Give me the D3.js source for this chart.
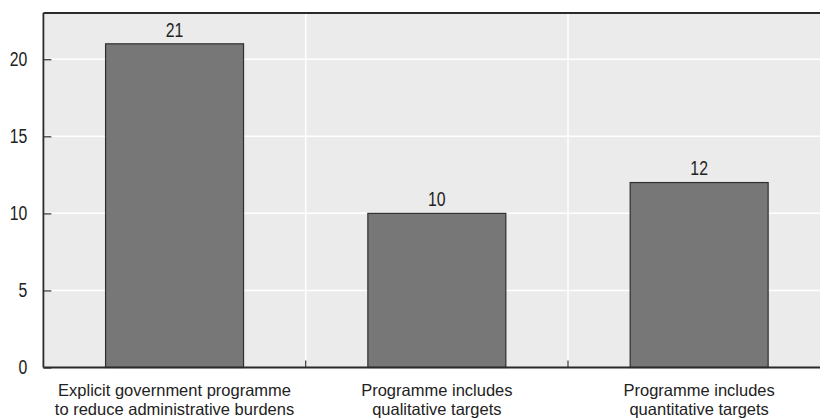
<!DOCTYPE html>
<html>
<head>
<meta charset="utf-8">
<script src="https://cdn.jsdelivr.net/npm/d3@7"></script>
<style>
  html, body { margin: 0; padding: 0; background: #ffffff; }
  svg { display: block; }
  text { font-family: "Liberation Sans", Arial, sans-serif; fill: #222; }
</style>
</head>
<body>
<svg id="chart" width="820" height="419"></svg>
<script>
// Number of countries per category
const categories = [
  ["Explicit government programme", "to reduce administrative burdens"],
  ["Programme includes", "qualitative targets"],
  ["Programme includes", "quantitative targets"]
];
const values = [21, 10, 12];
const yTicks = [0, 5, 10, 15, 20];

const W = 820, H = 419;
const margin = { left: 43.4, top: 13, bottom: 51.5 };
const plotRight = 830.3; // plot frame runs past the right edge of the canvas
const fontSize = 19.5;
const catFontSize = 16.5;
const catLeading = 19;
const squeeze = 1.0;      // horizontal scaling of the category labels
const numSqueeze = 0.81;  // digits are set narrower

const svg = d3.select("#chart");
const keys = categories.map((c, i) => i);

const x = d3.scaleBand().domain(keys).range([margin.left, plotRight]).padding(0);
const barFrac = 0.526;
const y = d3.scaleLinear().domain([0, 23]).range([H - margin.bottom, margin.top]);

// Condense a text element horizontally around its anchor point
function condense(sel, s) {
  sel.each(function () {
    const t = d3.select(this);
    const tx = +t.attr("x") || 0, ty = +t.attr("y") || 0;
    const prev = t.attr("transform") || "";
    t.attr("transform", `${prev} translate(${tx},${ty}) scale(${s},1) translate(${-tx},${-ty})`);
  });
}

// Plot background
svg.append("rect")
  .attr("x", margin.left).attr("y", margin.top)
  .attr("width", plotRight - margin.left).attr("height", y(0) - margin.top)
  .attr("fill", "#ebebeb");

// Horizontal gridlines
svg.append("g").selectAll("line")
  .data(yTicks.filter(d => d > 0))
  .join("line")
  .attr("x1", margin.left).attr("x2", plotRight)
  .attr("y1", d => y(d)).attr("y2", d => y(d))
  .attr("stroke", "#ffffff").attr("stroke-width", 1.5);

// Vertical gridlines at category boundaries
const bounds = keys.slice(1).map(k => x(k));
svg.append("g").selectAll("line")
  .data(bounds)
  .join("line")
  .attr("x1", d => d).attr("x2", d => d)
  .attr("y1", margin.top).attr("y2", y(0))
  .attr("stroke", "#ffffff").attr("stroke-width", 1.5);

// Bars
svg.append("g").selectAll("rect")
  .data(values)
  .join("rect")
  .attr("x", (d, i) => x(i) + x.bandwidth() * (1 - barFrac) / 2)
  .attr("width", x.bandwidth() * barFrac)
  .attr("y", d => y(d))
  .attr("height", d => y(0) - y(d))
  .attr("fill", "#777778")
  .attr("stroke", "#2f2f2f")
  .attr("stroke-width", 1.2);

// Value labels
svg.append("g").selectAll("text")
  .data(values)
  .join("text")
  .attr("x", (d, i) => x(i) + x.bandwidth() / 2)
  .attr("y", d => y(d) - 7.3)
  .attr("text-anchor", "middle")
  .attr("font-size", fontSize)
  .text(d => d)
  .call(condense, numSqueeze);

// Y axis with inward ticks
const yAxis = d3.axisLeft(y).tickValues(yTicks).tickSize(-8).tickPadding(16);
const gy = svg.append("g").attr("transform", `translate(${margin.left},0)`).call(yAxis);
gy.select(".domain").remove();
gy.selectAll(".tick line").attr("stroke", "#333").attr("stroke-width", 1.2);
gy.selectAll(".tick text").attr("font-size", fontSize).attr("fill", "#222")
  .style("font-family", "'Liberation Sans', Arial, sans-serif")
  .call(condense, numSqueeze);

// Boundary ticks on the category axis
svg.append("g").selectAll("line")
  .data(bounds)
  .join("line")
  .attr("x1", d => d).attr("x2", d => d)
  .attr("y1", y(0)).attr("y2", y(0) - 7)
  .attr("stroke", "#333").attr("stroke-width", 1.2);

// Frame lines: left, top, bottom
svg.append("line").attr("x1", margin.left).attr("x2", margin.left)
  .attr("y1", margin.top).attr("y2", y(0))
  .attr("stroke", "#2a2a2a").attr("stroke-width", 1.8);
svg.append("line").attr("x1", margin.left).attr("x2", plotRight)
  .attr("y1", margin.top).attr("y2", margin.top)
  .attr("stroke", "#2a2a2a").attr("stroke-width", 1.8);
svg.append("line").attr("x1", margin.left).attr("x2", plotRight)
  .attr("y1", y(0)).attr("y2", y(0))
  .attr("stroke", "#2a2a2a").attr("stroke-width", 2);

// Category labels, two lines each
const lab = svg.append("g").selectAll("g")
  .data(categories)
  .join("g");
lab.selectAll("text")
  .data((d, i) => d.map((line, j) => ({ line, i, j })))
  .join("text")
  .attr("text-anchor", "middle")
  .attr("font-size", catFontSize)
  .attr("x", d => x(d.i) + x.bandwidth() / 2)
  .attr("y", d => y(0) + 28 + d.j * catLeading)
  .text(d => d.line)
  .call(condense, squeeze);
</script>
</body>
</html>
